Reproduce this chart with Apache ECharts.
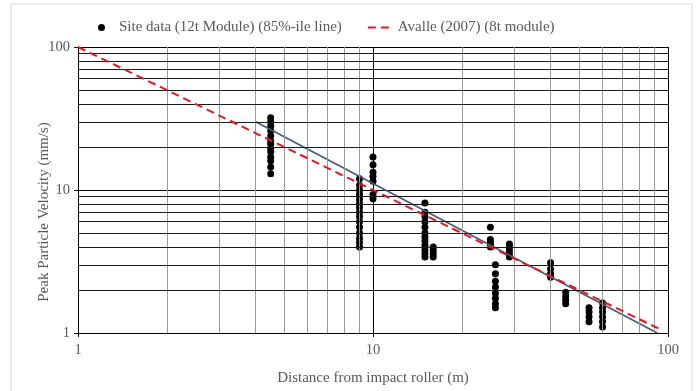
<!DOCTYPE html>
<html>
<head>
<meta charset="utf-8">
<script src="https://cdn.jsdelivr.net/npm/echarts@6/dist/echarts.min.js"></script>
<style>
  html, body { margin: 0; padding: 0; background: #fff; }
  #chart { width: 697px; height: 391px; }
</style>
</head>
<body>
<div id="chart"></div>
<script>
// site readings, grouped by distance (m) -> PPV (mm/s)
var distances = [4.5, 9, 10, 15, 16, 25, 26, 29, 40, 45, 54, 60];
var ppv = [
  [32, 30, 28, 26, 24, 22, 21, 19.5, 18.5, 17, 16, 14.5, 13],
  [12, 10.8, 10, 9.3, 8.6, 8, 7.5, 7, 6.5, 6, 5.5, 5, 4.6, 4.3, 4],
  [17, 15, 13.3, 12.5, 11.5, 9.3, 8.7],
  [8.1, 7, 6.5, 6, 5.5, 5, 4.7, 4.4, 4.1, 3.8, 3.6, 3.4],
  [4, 3.8, 3.6, 3.4],
  [5.5, 4.5, 4.3, 4.1, 4],
  [3, 2.6, 2.3, 2.1, 1.9, 1.75, 1.6, 1.5],
  [4.2, 4, 3.8, 3.6, 3.4],
  [3.1, 2.8, 2.6, 2.45],
  [1.93, 1.8, 1.7, 1.6],
  [1.5, 1.4, 1.3, 1.2],
  [1.62, 1.5, 1.4, 1.3, 1.2, 1.1]
];
// 85%-ile line and Avalle (2007) line end points
var fitLine = [[4, 30], [92, 1]];
var avalleLine = [[1, 100], [96, 1.04]];
// minor grid positions (log decades)
var minorX = [2, 3, 4, 5, 6, 7, 8, 9, 20, 30, 40, 50, 60, 70, 80, 90];
var minorY = [2, 3, 4, 5, 6, 7, 8, 9, 20, 30, 40, 50, 60, 70, 80, 90];

var siteName = 'Site data (12t Module) (85%-ile line)';
var avalleName = 'Avalle (2007) (8t module)';
var font = "'Liberation Serif', 'Times New Roman', serif";
var txt = '#595959';

var scatterData = [];
distances.forEach(function (d, i) {
  ppv[i].forEach(function (v) { scatterData.push([d, v]); });
});

var gridMarks = minorX.map(function (v) {
  return { xAxis: v, lineStyle: { color: '#9a9a9a', width: 1, type: 'solid' } };
}).concat(minorY.map(function (v) {
  return { yAxis: v, lineStyle: { color: '#1a1a1a', width: 1, type: 'solid' } };
}));

var chart = echarts.init(document.getElementById('chart'));
var option = {
  animation: false,
  backgroundColor: '#fff',
  textStyle: { fontFamily: font },
  graphic: [{
    type: 'rect',
    shape: { x: 11, y: 4, width: 681, height: 400 },
    style: { fill: 'none', stroke: '#d9d9d9', lineWidth: 1 },
    silent: true
  }],
  legend: {
    left: 93,
    top: 15,
    itemWidth: 25,
    itemHeight: 7,
    itemGap: 25,
    textStyle: { fontFamily: font, fontSize: 15, color: txt },
    data: [
      { name: siteName, icon: 'circle' },
      { name: avalleName, itemStyle: { opacity: 0 } }
    ]
  },
  grid: { left: 78, right: 29, top: 47, bottom: 58 },
  xAxis: {
    type: 'log',
    min: 1,
    max: 100,
    name: 'Distance from impact roller (m)',
    nameLocation: 'middle',
    nameGap: 38,
    nameMoveOverlap: false,
    nameTextStyle: { fontFamily: font, fontSize: 15, color: txt },
    axisLine: { lineStyle: { color: '#000', width: 1 } },
    axisTick: { show: true, length: 4, lineStyle: { color: '#000' } },
    axisLabel: { fontFamily: font, fontSize: 14.5, color: txt, margin: 10 },
    splitLine: { show: true, lineStyle: { color: '#000', width: 1 } }
  },
  yAxis: {
    type: 'log',
    min: 1,
    max: 100,
    name: 'Peak Particle Velocity (mm/s)',
    nameLocation: 'middle',
    nameGap: 26,
    nameMoveOverlap: false,
    nameTextStyle: { fontFamily: font, fontSize: 15, color: txt, padding: [0, 44, 0, 0] },
    axisLine: { show: true, lineStyle: { color: '#000', width: 1 } },
    axisTick: { show: true, length: 4, lineStyle: { color: '#000' } },
    axisLabel: { fontFamily: font, fontSize: 14.5, color: txt, margin: 8 },
    splitLine: { show: true, lineStyle: { color: '#000', width: 1 } }
  },
  series: [
    {
      // minor gridlines
      type: 'line',
      data: [],
      silent: true,
      z: 1,
      markLine: {
        silent: true,
        symbol: 'none',
        label: { show: false },
        animation: false,
        data: gridMarks
      }
    },
    {
      name: siteName,
      type: 'scatter',
      z: 3,
      symbol: 'circle',
      symbolSize: 7,
      itemStyle: { color: '#000', opacity: 1 },
      data: scatterData
    },
    {
      name: 'fit',
      type: 'line',
      z: 4,
      symbol: 'none',
      lineStyle: { color: '#4a5874', width: 1.6 },
      data: fitLine
    },
    {
      name: avalleName,
      type: 'line',
      z: 5,
      symbol: 'none',
      itemStyle: { color: '#e8141c' },
      lineStyle: { color: '#e8141c', width: 2, type: [8, 5] },
      data: avalleLine
    }
  ]
};
chart.setOption(option);
</script>
</body>
</html>
